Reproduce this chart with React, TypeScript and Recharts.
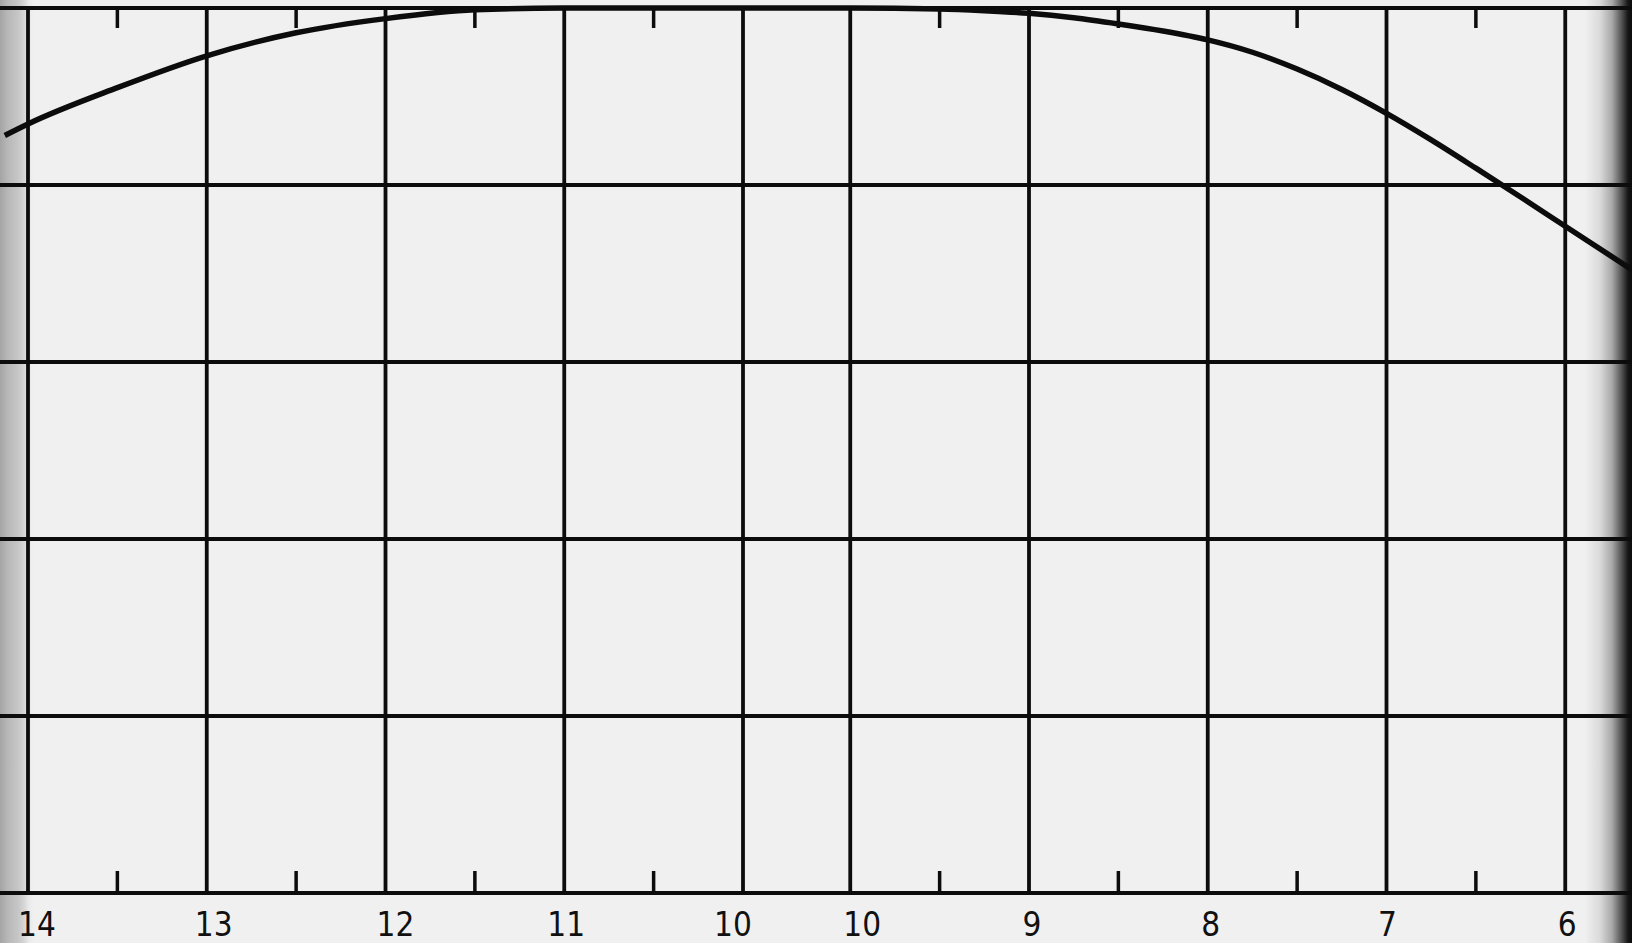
import React from "react";
import { LineChart, Line, XAxis, YAxis, CartesianGrid, ReferenceLine } from "recharts";

// Left panel abscissa runs 14 -> 10, right panel 10 -> 6 (decreasing)
const leftGridValues = [14, 13, 12, 11, 10];
const rightGridValues = [10, 9, 8, 7, 6];
const leftHalfValues = [13.5, 12.5, 11.5, 10.5];
const rightHalfValues = [9.5, 8.5, 7.5, 6.5];
const leftTickLabels = ["14", "13", "12", "11", "10"];
const rightTickLabels = ["10", "9", "8", "7", "6"];

// Curve (y in grid rows, 0 = bottom line, 5 = top line)
const leftCurveX = [14.13, 14, 13.5, 13, 12.5, 12, 11.5, 11, 10.5, 10];
const leftCurveY = [4.28, 4.345, 4.55, 4.73, 4.86, 4.94, 4.99, 5.0, 5.0, 5.0];
const rightCurveX = [10, 9.5, 9.25, 9, 8.75, 8.5, 8.25, 8, 7.75, 7.5, 7.25, 7, 6.75, 6.5, 6.25, 6, 5.62];
const rightCurveY = [5.0, 4.995, 4.985, 4.97, 4.945, 4.91, 4.87, 4.82, 4.75, 4.655, 4.54, 4.405, 4.255, 4.095, 3.932, 3.767, 3.517];

const yTicks = [0, 1, 2, 3, 4, 5];

// layout: gap between panels (in grid units) and label nudges (px)
const PANEL_GAP = 0.6;
const labelDx = [9, 7, 10, 2, -10, 12, 3, 3, 1, 2];

const leftPos = (v: number) => 14 - v;
const rightPos = (v: number) => 4 + PANEL_GAP + (10 - v);

const data = [
  ...leftCurveX.map((v, i) => ({ p: leftPos(v), y: leftCurveY[i] })),
  ...rightCurveX.map((v, i) => ({ p: rightPos(v), y: rightCurveY[i] })),
];

const gridPositions = [...leftGridValues.map(leftPos), ...rightGridValues.map(rightPos)];
const gridLabels = [...leftTickLabels, ...rightTickLabels];
const halfPositions = [...leftHalfValues.map(leftPos), ...rightHalfValues.map(rightPos)];
const bottomTicks = [...gridPositions, ...halfPositions];

const INK = "#0c0c0c";
const near = (a: number, b: number) => Math.abs(a - b) < 1e-6;

const BottomTick = (props: any) => {
  const { x, y, payload } = props;
  const v = payload.value;
  const gi = gridPositions.findIndex((g) => near(g, v));
  if (gi >= 0) {
    return (
      <text
        x={x + labelDx[gi]}
        y={y + 43}
        textAnchor="middle"
        fill="#111"
        fontSize={33}
        fontFamily="'Liberation Sans Narrow', 'DejaVu Sans Condensed', sans-serif"
      >
        {gridLabels[gi]}
      </text>
    );
  }
  return <line x1={x} x2={x} y1={y - 22} y2={y} stroke={INK} strokeWidth={3.5} />;
};

const TopTick = (props: any) => {
  const { x, y } = props;
  return <line x1={x} x2={x} y1={y} y2={y + 20} stroke={INK} strokeWidth={3.5} />;
};

export default function App() {
  return (
    <div
      style={{
        position: "absolute",
        left: 0,
        top: 0,
        width: 1632,
        height: 943,
        background:
          "linear-gradient(to right, #a4a4a4 0px, #b8b8b8 8px, #c6c6c6 18px, #d6d6d6 24px, #eaeaea 29px, #f0f0f0 34px, #f0f0f0 1585px, #dadada 1600px, #a8a8a8 1612px, #505050 1622px, #161616 1628px, #0c0c0c 1632px)",
      }}
    >
      <LineChart width={1632} height={943} data={data} margin={{ top: 0, right: 0, bottom: 0, left: 0 }}>
        <CartesianGrid vertical={false} stroke={INK} strokeWidth={3.8} strokeOpacity={1} />
        <XAxis
          dataKey="p"
          type="number"
          domain={[-28 / 178.75, 1604 / 178.75]}
          allowDataOverflow
          ticks={bottomTicks}
          interval={0}
          tick={<BottomTick />}
          tickLine={false}
          axisLine={false}
          tickSize={0}
          tickMargin={0}
          height={50}
        />
        <XAxis
          xAxisId="top"
          orientation="top"
          dataKey="p"
          type="number"
          domain={[-28 / 178.75, 1604 / 178.75]}
          allowDataOverflow
          ticks={halfPositions}
          interval={0}
          tick={<TopTick />}
          tickLine={false}
          axisLine={false}
          tickSize={0}
          tickMargin={0}
          height={8}
        />
        <YAxis hide domain={[0, 5]} ticks={yTicks} type="number" />
        {gridPositions.map((g, i) => (
          <ReferenceLine key={i} x={g} stroke={INK} strokeWidth={3.8} ifOverflow="extendDomain" />
        ))}
        <Line
          type="monotone"
          dataKey="y"
          stroke={INK}
          strokeWidth={5.5}
          dot={false}
          isAnimationActive={false}
        />
      </LineChart>
    </div>
  );
}
